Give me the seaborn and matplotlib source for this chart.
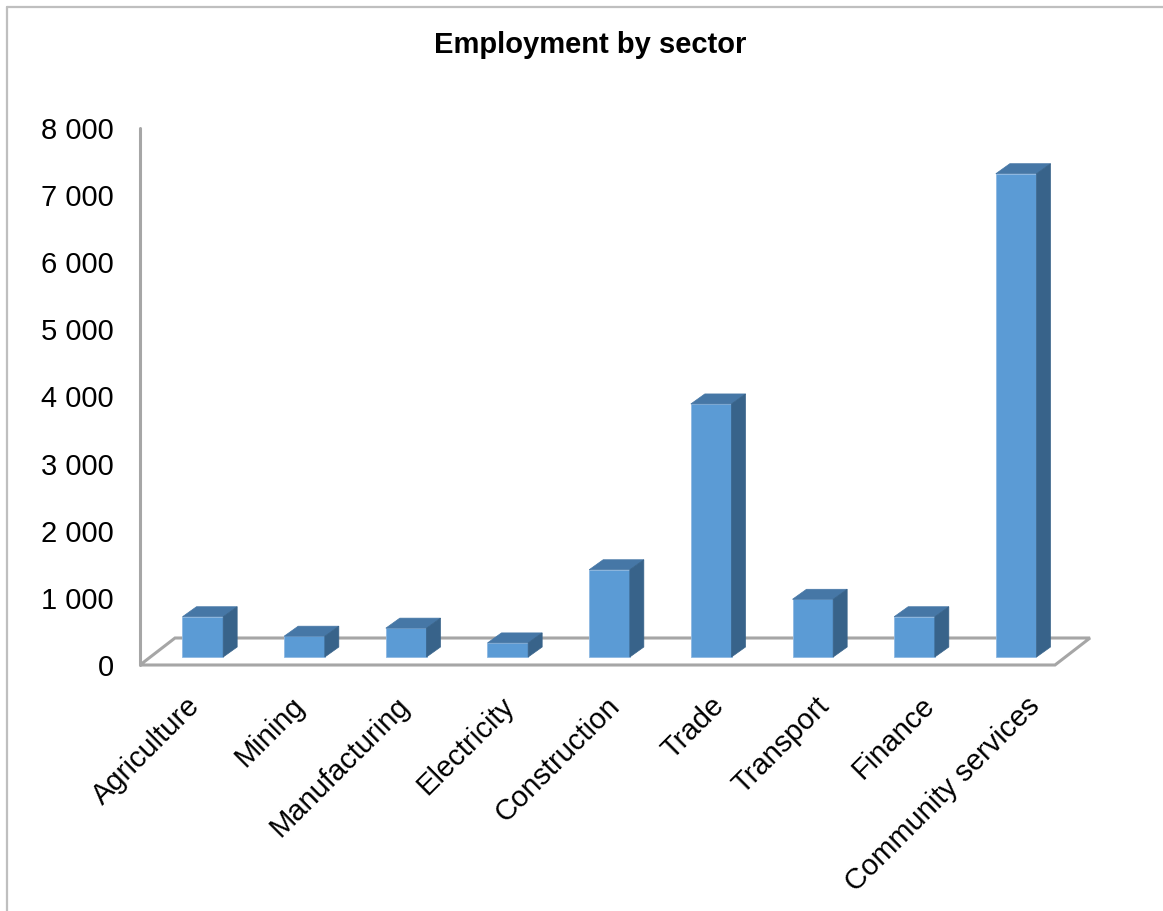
"""
Employment by sector - 3D-style column chart (Excel look) with seaborn
"""

import matplotlib
matplotlib.use("Agg")
import pandas as pd
import matplotlib.pyplot as plt
import seaborn as sns
from matplotlib.patches import Polygon
from matplotlib.lines import Line2D
from matplotlib.transforms import ScaledTranslation

# --------------------
# Data
# --------------------
sectors = ["Agriculture", "Mining", "Manufacturing", "Electricity", "Construction",
           "Trade", "Transport", "Finance", "Community services"]
employment = [600, 310, 430, 210, 1300, 3770, 860, 600, 7200]
y_ticks = [0, 1000, 2000, 3000, 4000, 5000, 6000, 7000, 8000]
title = "Employment by sector"

# --------------------
# Style
# --------------------
FRONT = "#5B9BD5"
TOP = "#4677A6"
SIDE = "#38638A"
GRID_GREY = "#A6A6A6"

sns.set_theme(style="white")
plt.rcParams["font.family"] = ["Liberation Sans", "DejaVu Sans"]
plt.rcParams["text.color"] = "black"

W, H = 1163, 911
fig = plt.figure(figsize=(W / 100, H / 100), dpi=100)

# front edge of the floor: x from 140 to 1055 px, value axis 665 (0) to 128 (8000) px
x0, x1, y0, y1 = 140, 1055, 665, 128
ax = fig.add_axes([x0 / W, 1 - y0 / H, (x1 - x0) / W, (y0 - y1) / H])

df = pd.DataFrame({"sector": sectors, "employment": employment})
sns.barplot(data=df, x="sector", y="employment", color=FRONT, saturation=1,
            width=0.4, ax=ax, zorder=3, edgecolor="#8DB8E2", linewidth=0.6)

ax.set_xlim(-0.5, len(sectors) - 0.5)
ax.set_ylim(y_ticks[0], y_ticks[-1])
for s in ax.spines.values():
    s.set_visible(False)
ax.set_xlabel("")
ax.set_ylabel("")

# pixel -> data conversions for the fake depth
ux = (x1 - x0) / len(sectors)
uy = (y0 - y1) / (y_ticks[-1] - y_ticks[0])


def off(px, py):
    return px / ux, py / uy


bx, by = off(12, 8)      # bars sit a bit back on the floor
dx, dy = off(14, 10)     # bar depth
fx, fy = off(35, 27)     # floor depth

# floor outline + value axis line
floor = Polygon([(-0.5, 0), (len(sectors) - 0.5, 0), (len(sectors) - 0.5 + fx, fy), (-0.5 + fx, fy)],
                closed=True, fill=False, edgecolor=GRID_GREY, linewidth=2.2, zorder=1, clip_on=False)
ax.add_patch(floor)
ax.add_line(Line2D([-0.5, -0.5], [0, y_ticks[-1]], color=GRID_GREY, linewidth=2.2, zorder=1, clip_on=False))

# extrude bars
for p in list(ax.patches):
    if p is floor:
        continue
    x = p.get_x() + bx
    w = p.get_width()
    h = p.get_height()
    p.set_x(x)
    p.set_y(by)
    p.set_clip_on(False)
    top = Polygon([(x, by + h), (x + w, by + h), (x + w + dx, by + h + dy), (x + dx, by + h + dy)],
                  closed=True, facecolor=TOP, edgecolor=TOP, linewidth=0.5, zorder=3, clip_on=False)
    side = Polygon([(x + w, by), (x + w + dx, by + dy), (x + w + dx, by + h + dy), (x + w, by + h)],
                   closed=True, facecolor=SIDE, edgecolor=SIDE, linewidth=0.5, zorder=3, clip_on=False)
    ax.add_patch(top)
    ax.add_patch(side)

# ticks
ax.set_yticks(y_ticks)
ax.set_yticklabels([f"{v:,}".replace(",", " ") for v in y_ticks])
ax.tick_params(axis="y", length=0, pad=19, labelsize=21, labelcolor="black")

ax.set_xticks(range(len(sectors)))
ax.set_xticklabels(sectors, rotation=45, ha="right", rotation_mode="anchor")
ax.tick_params(axis="x", length=0, pad=19, labelsize=21, labelcolor="black")
for i, lbl in enumerate(ax.get_xticklabels()):
    shift = ScaledTranslation((-5 + 3.25 * i) / 100, 0, fig.dpi_scale_trans)
    lbl.set_transform(lbl.get_transform() + shift)

fig.text(590 / W, 1 - 45 / H, title, ha="center", va="center", fontsize=21,
         fontweight="bold", color="black")

# chart-area border (top and left visible)
fig.add_artist(Line2D([7 / W, 1], [1 - 7 / H, 1 - 7 / H], transform=fig.transFigure, color="#BFBFBF", linewidth=1.6))
fig.add_artist(Line2D([7 / W, 7 / W], [0, 1 - 7 / H], transform=fig.transFigure, color="#BFBFBF", linewidth=1.6))

fig.savefig("out.png", dpi=100)
